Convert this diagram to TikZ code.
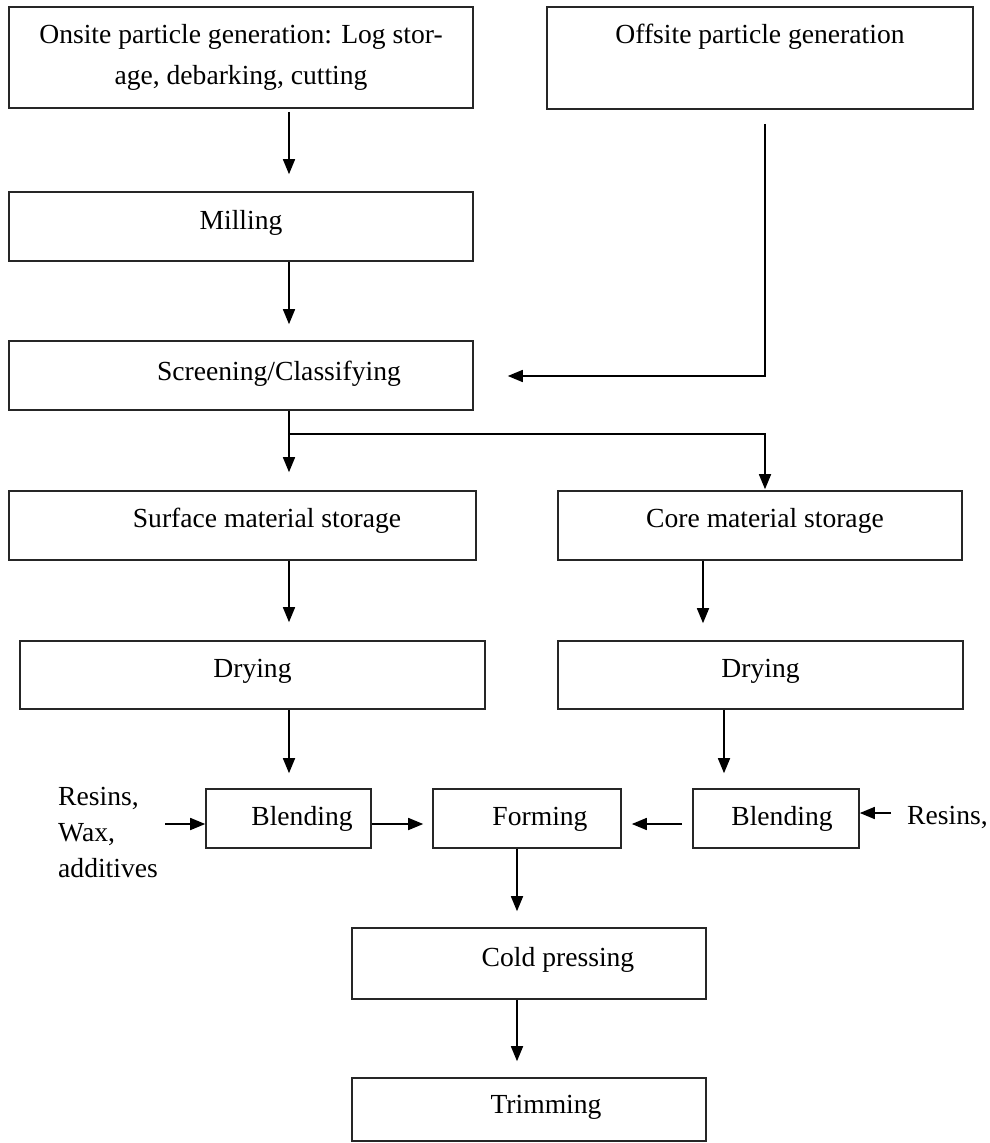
\documentclass[tikz,border=0pt]{standalone}
\usepackage{fontspec}
\setmainfont{Liberation Serif}
\usetikzlibrary{arrows.meta}
\newcommand\fsz{\fontsize{27.6pt}{33pt}\selectfont}
\begin{document}
\begin{tikzpicture}[x=1pt,y=-1pt,
  boxbase/.style={draw=black!85, line width=1.6pt, inner sep=0pt, font=\fsz},
  box/.style={boxbase, text height=19pt, text depth=14pt},
  lab/.style={inner sep=0pt, font=\fsz},
  arr/.style={line width=1.6pt, -{Triangle[length=15pt,width=12pt]}}]
\fill[white] (0,0) rectangle (990,1143);
\useasboundingbox (0,0) rectangle (990,1143);
% boxes
\node[boxbase, align=center, font=\fontsize{27.6pt}{41pt}\selectfont, minimum width=464pt, minimum height=101pt] (onsite) at (241,57.5) {Onsite particle generation: Log stor-\\age, debarking, cutting};
\node[box, text depth=48pt, minimum width=426pt, minimum height=102pt] (offsite) at (760,58) {Offsite particle generation};
\node[box, minimum width=464pt, minimum height=69pt] (milling) at (241,226.5) {Milling};
\node[box, text depth=10pt, minimum width=464pt, minimum height=69pt] (screen) at (241,375.5) {\hspace*{76pt}Screening/Classifying};
\node[box, text depth=16pt, minimum width=467pt, minimum height=69pt] (surface) at (242.5,525.5) {\hspace*{49pt}Surface material storage};
\node[box, text depth=16pt, minimum width=404pt, minimum height=69pt] (core) at (760,525.5) {\hspace*{10pt}Core material storage};
\node[box, minimum width=465pt, minimum height=68pt] (dryL) at (252.5,675) {Drying};
\node[box, minimum width=405pt, minimum height=68pt] (dryR) at (760.5,675) {Drying};
\node[box, text depth=6pt, minimum width=165pt, minimum height=59pt] (blendL) at (288.5,818.5) {\hspace*{27pt}Blending};
\node[box, text depth=6pt, minimum width=188pt, minimum height=59pt] (forming) at (527,818.5) {\hspace*{26pt}Forming};
\node[box, text depth=6pt, minimum width=166pt, minimum height=59pt] (blendR) at (776,818.5) {\hspace*{12pt}Blending};
\node[box, text depth=13pt, minimum width=354pt, minimum height=71pt] (cold) at (529,963.5) {\hspace*{58pt}Cold pressing};
\node[box, text depth=11pt, minimum width=354pt, minimum height=63pt] (trim) at (529,1109.5) {\hspace*{34pt}Trimming};
% side labels
\node[lab, align=left, font=\fontsize{27.6pt}{36pt}\selectfont, anchor=west] (resL) at (58,832) {Resins,\\Wax,\\additives};
\node[lab, anchor=west] (resR) at (907,817) {Resins,};
% helper coordinates
\coordinate (xa) at (289,0);
\coordinate (xo) at (765,0);
\coordinate (xc) at (703,0);
\coordinate (xd) at (724,0);
\coordinate (xf) at (517,0);
\coordinate (ya) at (0,376);
\coordinate (yb) at (0,434);
\coordinate (yc) at (0,824);
\coordinate (yd) at (0,813);
% connectors
\draw[arr, shorten <=3pt, shorten >=17pt] (onsite.south -| xa) -- (milling.north -| xa);
\draw[arr, shorten >=16pt] (milling.south -| xa) -- (screen.north -| xa);
\draw[arr, shorten <=14pt, shorten >=34pt] (offsite.south -| xo) |- (screen.east |- ya);
\draw[arr, shorten >=18pt] (screen.south -| xa) -- (surface.north -| xa);
\draw[arr, shorten >=1pt] (xa |- yb) -| (core.north -| xo);
\draw[arr, shorten >=18pt] (surface.south -| xa) -- (dryL.north -| xa);
\draw[arr, shorten >=17pt] (core.south -| xc) -- (dryR.north -| xc);
\draw[arr, shorten >=15pt] (dryL.south -| xa) -- (blendL.north -| xa);
\draw[arr, shorten >=15pt] (dryR.south -| xd) -- (blendR.north -| xd);
\draw[arr, shorten <=7pt] (resL.east |- yc) -- (blendL.west |- yc);
\draw[arr, shorten >=9pt] (blendL.east |- yc) -- (forming.west |- yc);
\draw[arr, shorten <=10pt, shorten >=10pt] (blendR.west |- yc) -- (forming.east |- yc);
\draw[arr, shorten <=16pt] (resR.west |- yd) -- (blendR.east |- yd);
\draw[arr, shorten >=16pt] (forming.south -| xf) -- (cold.north -| xf);
\draw[arr, shorten >=16pt] (cold.south -| xf) -- (trim.north -| xf);
\end{tikzpicture}
\end{document}
